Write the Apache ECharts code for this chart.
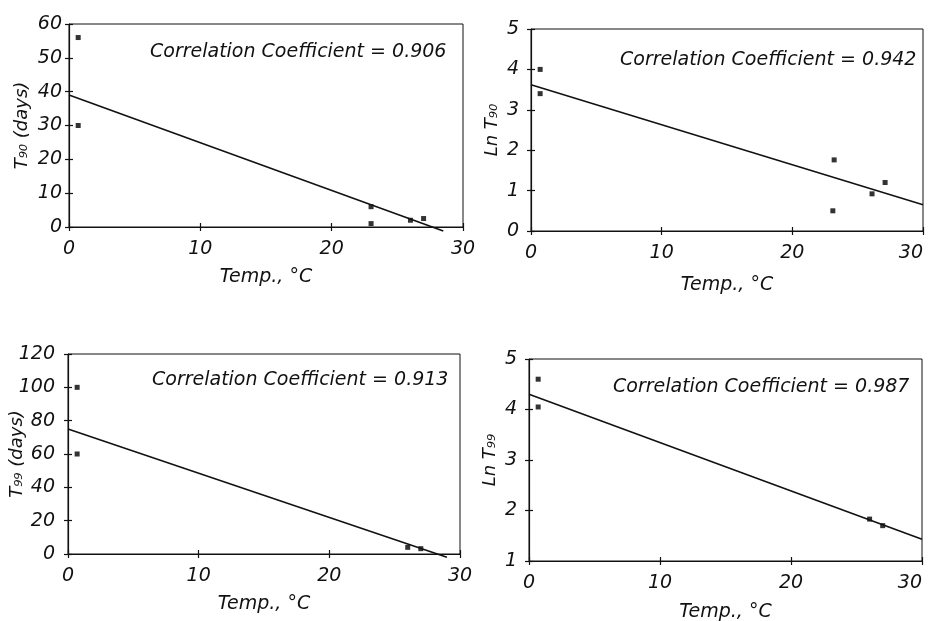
<!DOCTYPE html>
<html>
<head>
<meta charset="utf-8">
<script src="https://cdn.jsdelivr.net/npm/echarts@6/dist/echarts.min.js"></script>
<style>
  html, body { margin: 0; padding: 0; background: #fff; }
  #chart { width: 930px; height: 621px; }
</style>
</head>
<body>
<div id="chart"></div>
<script>
// temperature ticks shared by all four panels
var tempTicks = [0, 10, 20, 30];

// T90 (days) vs temperature
var t90Temp = [0.7, 0.7, 23, 23, 26, 27];
var t90Days = [56, 30, 6, 1, 2, 2.5];
var t90FitTemp = [0, 28.5];
var t90FitDays = [39, -1.2];

// Ln T90 vs temperature
var lnT90Temp = [0.7, 0.7, 23.2, 23.1, 26.1, 27.1];
var lnT90Val = [4.0, 3.4, 1.76, 0.5, 0.92, 1.2];
var lnT90FitTemp = [0, 30];
var lnT90FitVal = [3.62, 0.65];

// T99 (days) vs temperature
var t99Temp = [0.7, 0.7, 26, 27];
var t99Days = [100, 60, 4, 3.2];
var t99FitTemp = [0, 29];
var t99FitDays = [75, -2];

// Ln T99 vs temperature
var lnT99Temp = [0.7, 0.7, 26, 27];
var lnT99Val = [4.6, 4.05, 1.83, 1.7];
var lnT99FitTemp = [0, 30];
var lnT99FitVal = [4.3, 1.43];

var coeffs = ["0.906", "0.942", "0.913", "0.987"];

var font = "DejaVu Sans";
var ink = "#111";

function pairs(xs, ys) {
  return xs.map(function (x, i) { return [x, ys[i]]; });
}

// one panel = one grid with two x and two y axes (the second pair only draws inside ticks)
var panels = [
  { grid: { left: 69, right: 467, top: 24, bottom: 394 }, ymin: 0, ymax: 60, yint: 10, yname: "T\u2089\u2080 (days)", ygap: 38, ymargin: 7, xgap: 41,
    pts: pairs(t90Temp, t90Days), fit: pairs(t90FitTemp, t90FitDays), text: [145, 38] },
  { grid: { left: 531, right: 7, top: 29, bottom: 390 }, ymin: 0, ymax: 5, yint: 1, yname: "Ln T\u2089\u2080", ygap: 30, ymargin: 12, xgap: 45,
    pts: pairs(lnT90Temp, lnT90Val), fit: pairs(lnT90FitTemp, lnT90FitVal), text: [615, 46], edge: "right" },
  { grid: { left: 68, right: 470, top: 354, bottom: 67 }, ymin: 0, ymax: 120, yint: 20, yname: "T\u2089\u2089 (days)", ygap: 42, ymargin: 13, xgap: 41,
    pts: pairs(t99Temp, t99Days), fit: pairs(t99FitTemp, t99FitDays), text: [147, 366] },
  { grid: { left: 529, right: 8, top: 359, bottom: 60 }, ymin: 1, ymax: 5, yint: 1, yname: "Ln T\u2089\u2089", ygap: 30, ymargin: 12, xgap: 42,
    pts: pairs(lnT99Temp, lnT99Val), fit: pairs(lnT99FitTemp, lnT99FitVal), text: [608, 373], edge: "right" }
];

var labelStyle = { color: ink, fontSize: 19, fontStyle: "italic", fontFamily: font };

var option = { animation: false, grid: [], xAxis: [], yAxis: [], series: [], title: [] };

panels.forEach(function (p, i) {
  var g = p.grid;
  option.grid.push({ left: g.left, right: g.right, top: g.top, bottom: g.bottom,
    outerBoundsMode: "none", containLabel: false,
    show: true, borderColor: ink, borderWidth: 1, backgroundColor: "transparent" });

  // main x axis with labels and outer ticks
  option.xAxis.push({
    type: "value", gridIndex: i, position: "bottom", min: 0, max: tempTicks[tempTicks.length - 1], interval: 10,
    name: "Temp., \u00b0C", nameLocation: "middle", nameGap: p.xgap, nameMoveOverlap: false,
    nameTextStyle: { color: ink, fontSize: 19, fontStyle: "italic", fontFamily: font },
    axisLine: { lineStyle: { color: ink, width: 1.2 } },
    axisTick: { show: true, length: 4, lineStyle: { color: ink, width: 1.2 } },
    axisLabel: Object.assign({ margin: 13, alignMaxLabel: p.edge || null }, labelStyle),
    splitLine: { show: false }
  });
  // inner ticks so they cross the axis
  option.xAxis.push({
    type: "value", gridIndex: i, position: "bottom", min: 0, max: 30, interval: 10,
    axisLine: { show: false },
    axisTick: { show: true, inside: true, length: 4, lineStyle: { color: ink, width: 1.2 } },
    axisLabel: { show: false }, splitLine: { show: false }
  });

  option.yAxis.push({
    type: "value", gridIndex: i, position: "left", min: p.ymin, max: p.ymax, interval: p.yint,
    name: p.yname, nameLocation: "middle", nameGap: p.ygap, nameMoveOverlap: false,
    nameTextStyle: { color: ink, fontSize: 18, fontStyle: "italic", fontFamily: font },
    axisLine: { lineStyle: { color: ink, width: 1.2 } },
    axisTick: { show: true, length: 4, lineStyle: { color: ink, width: 1.2 } },
    axisLabel: Object.assign({ margin: p.ymargin }, labelStyle),
    splitLine: { show: false }
  });
  option.yAxis.push({
    type: "value", gridIndex: i, position: "left", min: p.ymin, max: p.ymax, interval: p.yint,
    axisLine: { show: false },
    axisTick: { show: true, inside: true, length: 4, lineStyle: { color: ink, width: 1.2 } },
    axisLabel: { show: false }, splitLine: { show: false }
  });

  // measured points
  option.series.push({
    type: "scatter", xAxisIndex: 2 * i, yAxisIndex: 2 * i, data: p.pts,
    symbol: "rect", symbolSize: 5, itemStyle: { color: "#000" }, silent: true
  });
  // regression line
  option.series.push({
    type: "line", xAxisIndex: 2 * i, yAxisIndex: 2 * i, data: p.fit, clip: false,
    showSymbol: false, lineStyle: { color: ink, width: 1.6 }, silent: true
  });

  option.title.push({
    text: "Correlation Coefficient = " + coeffs[i],
    left: p.text[0], top: p.text[1],
    textStyle: { color: ink, fontSize: 19, fontWeight: "normal", fontStyle: "italic", fontFamily: font }
  });
});

var chart = echarts.init(document.getElementById("chart"));
chart.setOption(option);
</script>
</body>
</html>
